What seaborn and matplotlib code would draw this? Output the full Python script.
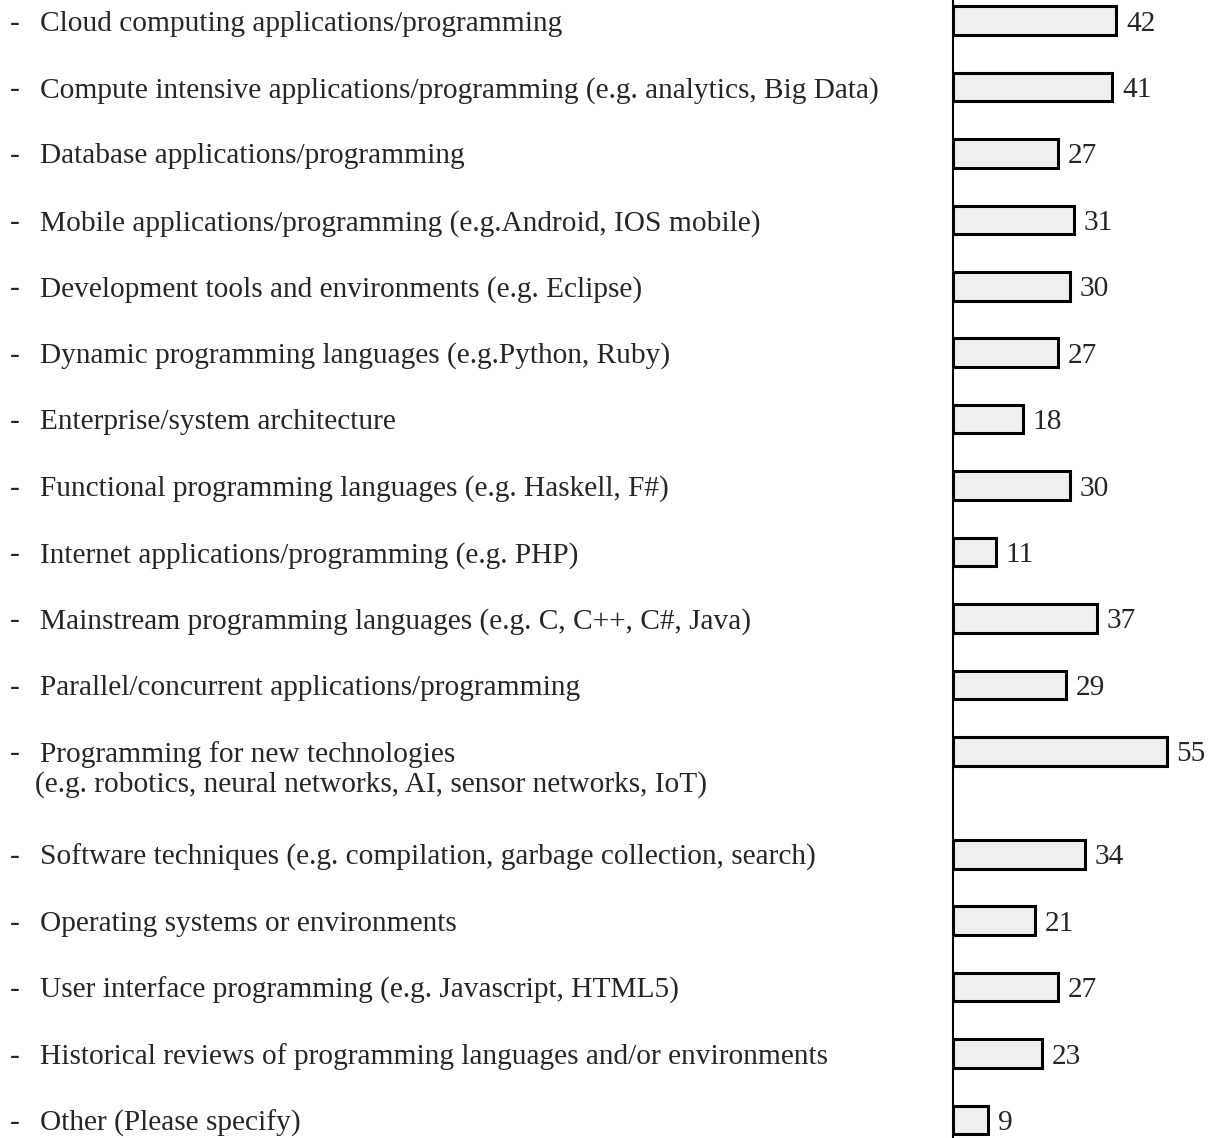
import numpy as np
import pandas as pd
import matplotlib
matplotlib.use("Agg")
import matplotlib.pyplot as plt
import matplotlib.transforms as mtransforms
import seaborn as sns

# Data ---------------------------------------------------------------
topics = [
    "Cloud computing applications/programming",
    "Compute intensive applications/programming (e.g. analytics, Big Data)",
    "Database applications/programming",
    "Mobile applications/programming (e.g.Android, IOS mobile)",
    "Development tools and environments (e.g. Eclipse)",
    "Dynamic programming languages (e.g.Python, Ruby)",
    "Enterprise/system architecture",
    "Functional programming languages (e.g. Haskell, F#)",
    "Internet applications/programming (e.g. PHP)",
    "Mainstream programming languages (e.g. C, C++, C#, Java)",
    "Parallel/concurrent applications/programming",
    "Programming for new technologies\n(e.g. robotics, neural networks, AI, sensor networks, IoT)",
    "Software techniques (e.g. compilation, garbage collection, search)",
    "Operating systems or environments",
    "User interface programming (e.g. Javascript, HTML5)",
    "Historical reviews of programming languages and/or environments",
    "Other (Please specify)",
]
counts = [42, 41, 27, 31, 30, 27, 18, 30, 11, 37, 29, 55, 34, 21, 27, 23, 9]

# row positions: two-line labels take a bit more room
extra = 0.55
line_step = 0.45
nlines = [t.count("\n") + 1 for t in topics]
ypos = []
y = 0.0
for n in nlines:
    ypos.append(y)
    y += 1 + extra * (n - 1)

df = pd.DataFrame({"topic": topics, "count": counts, "y": ypos})

# Plot ---------------------------------------------------------------
sns.set_style("white", {"axes.grid": False})
plt.rcParams["font.family"] = ["Liberation Serif", "DejaVu Serif"]
FS = 21.2

fig = plt.figure(figsize=(12.14, 11.38), dpi=100)
ax = fig.add_axes([953 / 1214, 0, 261 / 1214, 1])

sns.barplot(data=df, x="count", y="y", orient="h", native_scale=True,
            color="#efefef", saturation=1, edgecolor="black",
            linewidth=2.2, width=0.43, ax=ax)

ax.set_xlim(0, 261 / 3.89)
ax.set_ylim(ypos[-1] + 0.27, -0.31)

# value labels
for c, yy in zip(counts, ypos):
    ax.annotate(str(c), (c, yy), xytext=(7, 0), textcoords="offset points",
                fontsize=FS, ha="left", va="center_baseline",
                annotation_clip=False)

# left-aligned category labels
trans = mtransforms.blended_transform_factory(fig.transFigure, ax.transData)
for t, yy in zip(topics, ypos):
    ax.text(10 / 1214, yy, "-", transform=trans, fontsize=FS,
            ha="left", va="center_baseline", clip_on=False)
    for k, line in enumerate(t.split("\n")):
        ax.text(40 / 1214 - (5 / 1214 if k else 0), yy + k * line_step, line,
                transform=trans, fontsize=FS, ha="left",
                va="center_baseline", clip_on=False)

sns.despine(ax=ax, left=False, bottom=True, right=True, top=True)
ax.spines["left"].set_linewidth(1.5)
ax.spines["left"].set_color("black")
ax.set_xticks([])
ax.set_yticks([])
ax.set_xlabel("")
ax.set_ylabel("")

fig.savefig("out.png", dpi=100, facecolor="white")
